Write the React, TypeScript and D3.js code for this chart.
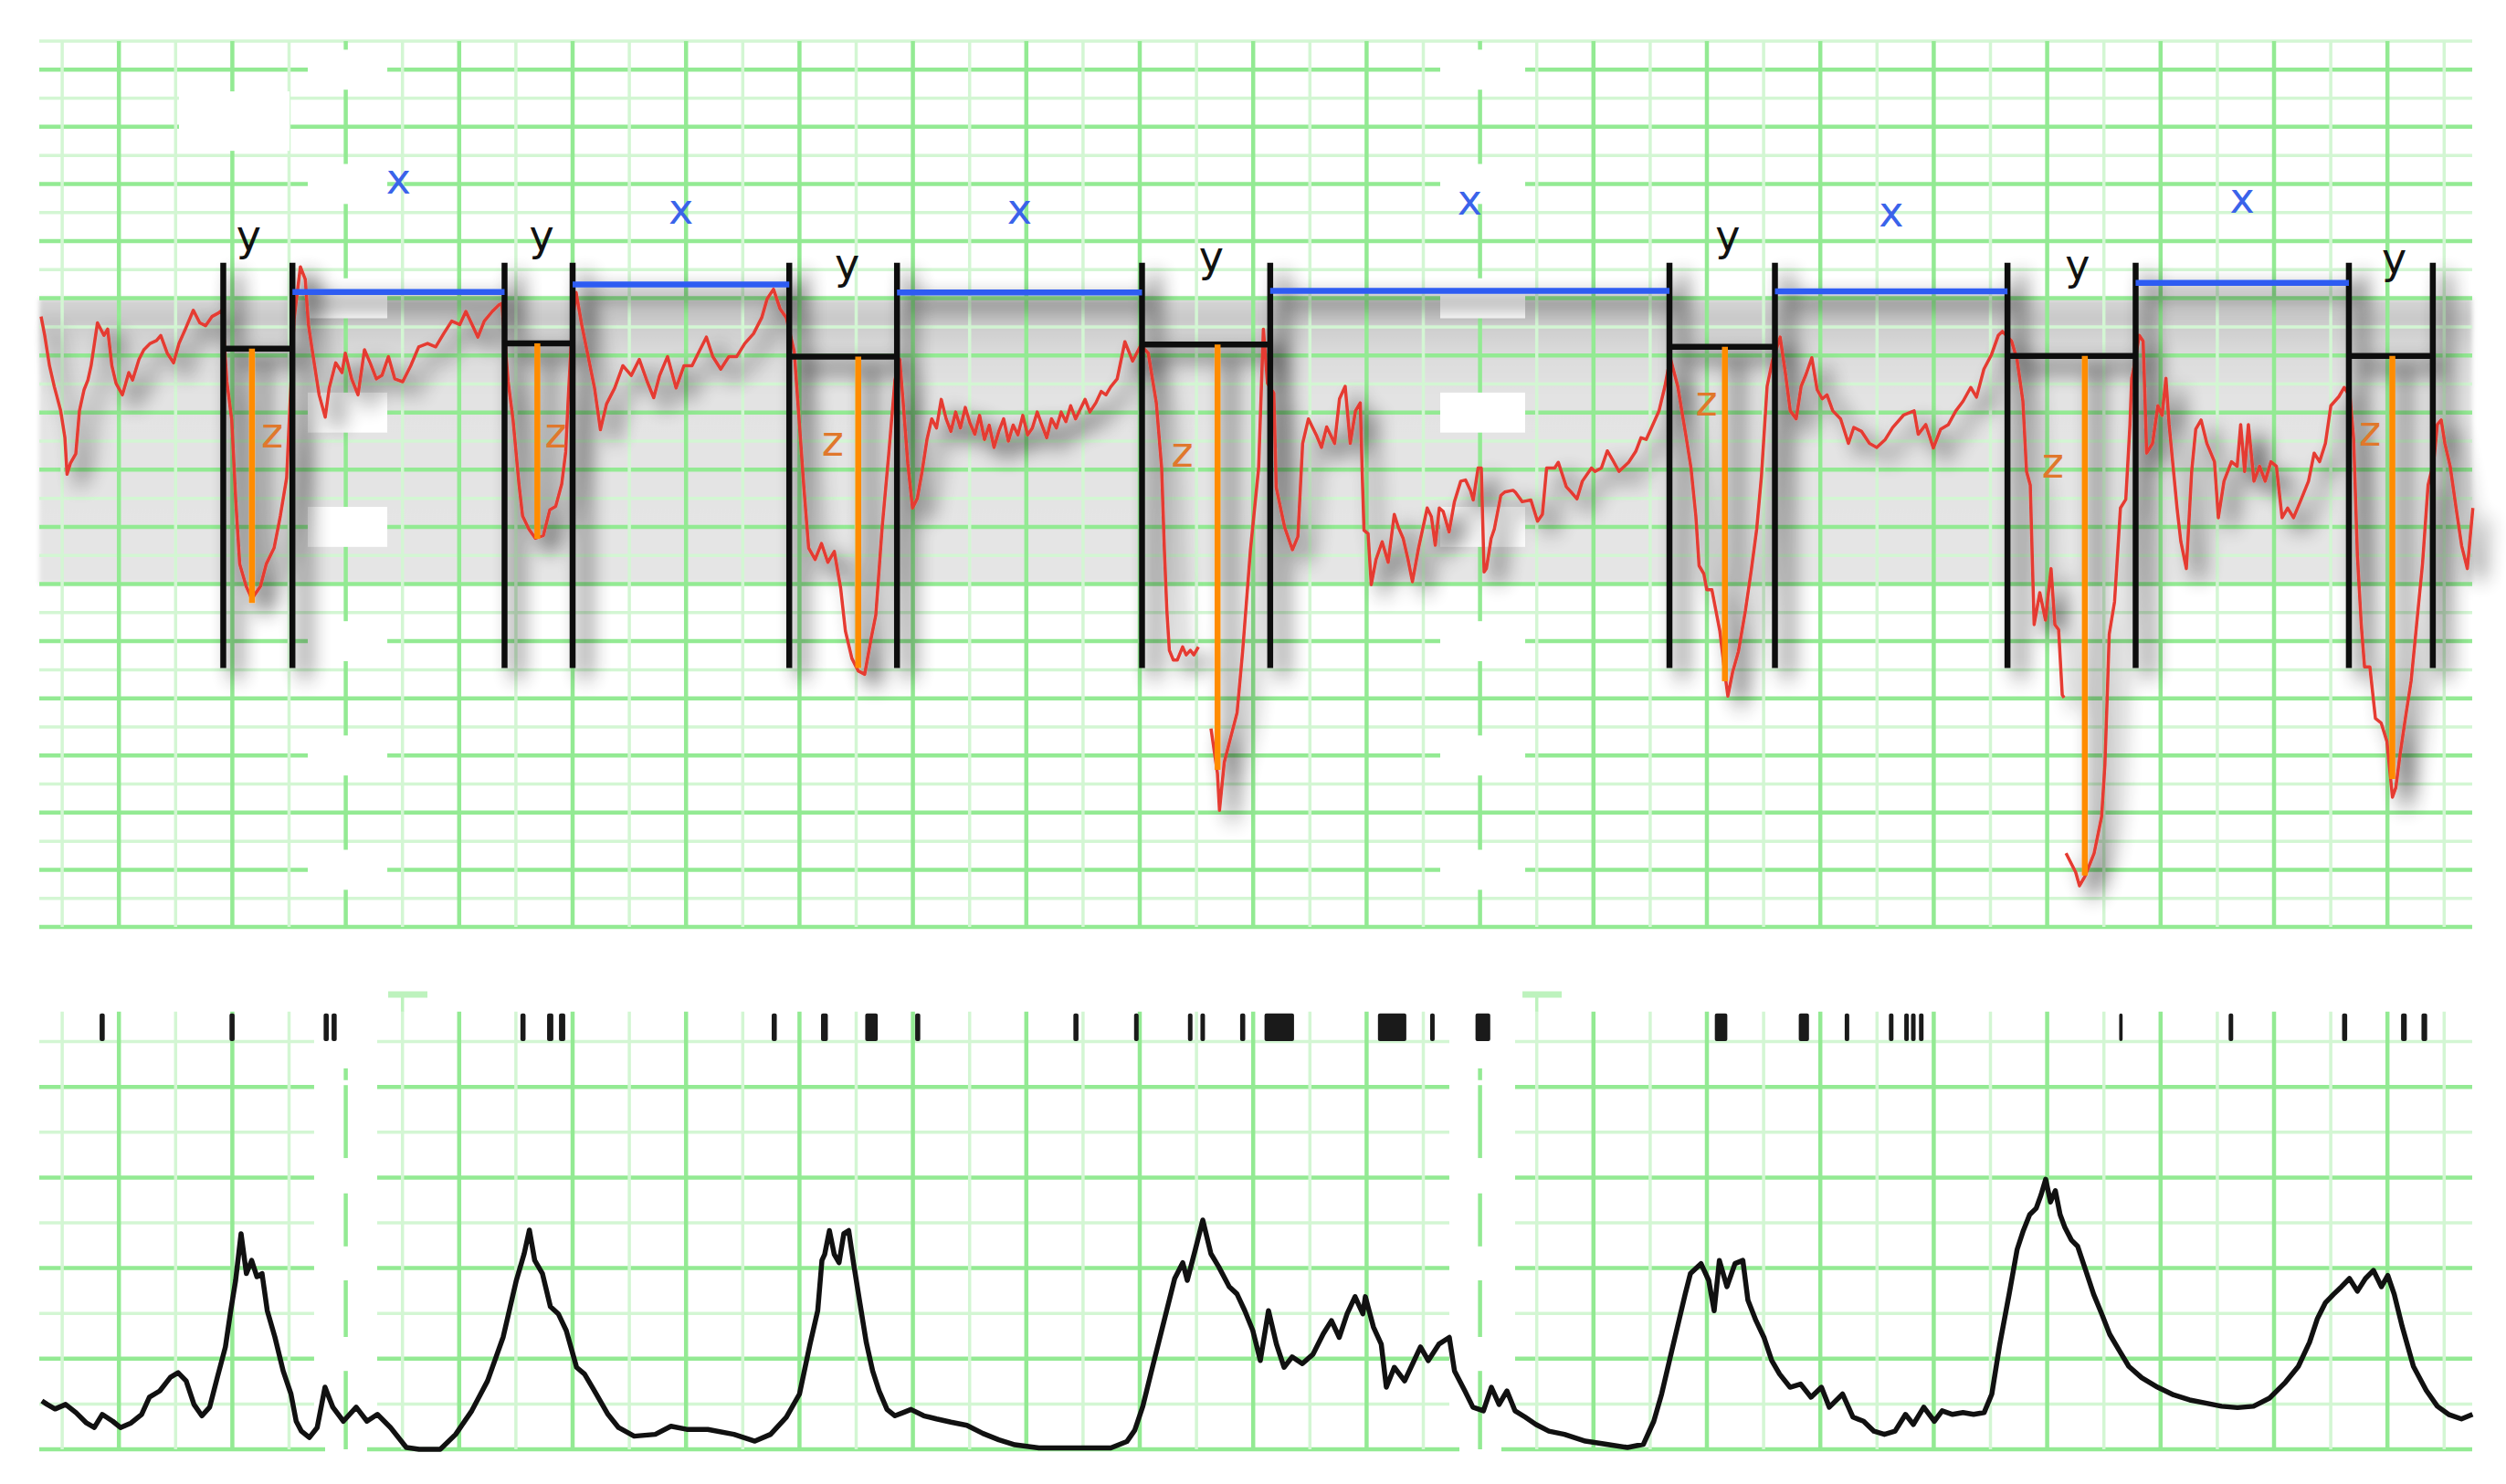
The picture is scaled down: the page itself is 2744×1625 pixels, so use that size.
import React from 'react';
import * as d3 from 'd3';

const W = 2744;
const H = 1625;

// ---- Fetal heart rate trace: [minute, bpm] (null = signal loss) ----
const fhr: [number, number | null][] = [
  [0.314,156.8],[0.346,153.5],[0.388,148.2],[0.431,144.5],[0.487,140.3],[0.524,135.6],[0.543,129.2],[0.572,131.1],[0.620,132.8],[0.652,140.3],[0.693,144.0],[0.727,145.7],[0.755,148.2],[0.811,155.7],[0.868,153.5],[0.901,154.6],[0.938,148.2],[0.975,145.1],[1.031,143.1],[1.087,147.0],[1.121,145.7],[1.177,149.3],[1.220,151.0],[1.276,152.1],[1.332,152.6],[1.369,153.5],[1.426,150.4],[1.482,148.7],[1.530,152.1],[1.586,154.6],[1.656,157.9],[1.713,155.7],[1.764,155.2],[1.820,156.8],[1.876,157.4],[1.910,157.9],
  [1.952,145.4],[1.995,138.7],[2.030,124.7],[2.065,113.5],[2.122,109.6],[2.172,107.4],[2.248,109.6],[2.299,113.5],[2.368,116.3],[2.423,121.9],[2.479,128.6],[2.502,138.7],[2.544,156.3],[2.600,165.5],[2.643,163.3],[2.671,155.4],[2.713,149.8],[2.765,143.1],[2.819,139.2],[2.854,144.3],[2.911,148.7],[2.967,147.0],[2.996,150.4],[3.052,145.9],[3.108,143.1],[3.165,151.0],[3.215,148.7],[3.270,145.9],[3.319,146.5],[3.376,149.8],[3.432,145.9],[3.502,145.4],[3.573,148.2],[3.643,151.5],[3.721,152.1],[3.793,151.5],[3.863,153.8],[3.934,156.0],[4.005,155.4],[4.059,157.7],[4.114,155.4],[4.165,153.2],[4.221,156.0],[4.292,157.7],[4.348,158.8],[4.376,159.1],
  [4.432,145.4],[4.475,138.7],[4.527,127.5],[4.559,121.9],[4.615,119.6],[4.672,118.0],[4.742,118.5],[4.799,123.0],[4.851,123.6],[4.904,127.5],[4.939,133.1],[4.959,141.5],[4.996,155.4],[5.031,161.0],[5.080,155.4],[5.137,149.8],[5.193,144.3],[5.245,137.0],[5.299,141.5],[5.371,144.3],[5.443,148.2],[5.517,146.5],[5.588,149.3],[5.658,145.4],[5.715,142.6],[5.767,146.5],[5.837,149.8],[5.912,144.3],[5.982,148.2],[6.053,148.2],[6.123,151.0],[6.179,153.2],[6.236,149.8],[6.306,147.6],[6.377,149.8],[6.447,149.8],[6.518,152.1],[6.595,153.8],[6.667,156.6],[6.715,159.9],[6.771,161.6],[6.828,158.2],[6.884,156.6],
  [6.954,150.7],[6.997,138.7],[7.039,126.9],[7.081,116.3],[7.138,114.3],[7.194,117.1],[7.250,113.8],[7.307,115.7],[7.363,109.3],[7.405,101.8],[7.462,97.0],[7.518,94.8],[7.575,94.2],[7.631,100.4],[7.673,104.6],[7.729,119.9],[7.786,132.5],[7.842,145.7],[7.884,149.3],
  [7.912,142.3],[7.955,131.1],[7.997,123.3],[8.039,125.0],[8.081,129.7],[8.124,135.3],[8.166,138.9],[8.208,137.3],[8.250,142.3],[8.293,138.9],[8.335,136.7],[8.377,140.1],[8.419,137.3],[8.462,140.9],[8.504,138.1],[8.546,136.2],[8.588,139.5],[8.631,135.3],[8.673,137.8],[8.715,133.9],[8.757,136.7],[8.800,138.9],[8.842,135.0],[8.884,137.8],[8.926,136.1],[8.969,139.5],[9.011,136.1],[9.053,137.3],[9.096,140.1],[9.138,137.8],[9.180,135.6],[9.222,138.9],[9.265,137.3],[9.307,140.1],[9.349,138.4],[9.391,141.2],[9.434,138.9],[9.476,140.6],[9.518,142.3],[9.560,140.1],[9.613,141.7],[9.660,143.7],[9.702,143.1],[9.744,144.5],[9.801,145.9],[9.869,152.4],[9.937,149.0],[10.009,151.8],
  [10.075,150.4],[10.146,141.7],[10.193,130.3],[10.217,116.0],[10.239,105.4],[10.261,98.4],[10.296,96.7],[10.331,96.7],[10.378,99.0],[10.409,97.6],[10.446,98.4],[10.477,97.6],[10.517,99.0],
  [10.57,null],
  [10.628,84.7],[10.685,76.9],[10.703,70.4],[10.745,78.8],[10.793,82.5],[10.858,87.5],[10.907,98.2],[10.976,116.0],[11.048,130.3],[11.090,154.6],[11.126,145.1],[11.182,143.4],[11.203,126.9],[11.278,119.9],[11.346,116.0],[11.394,118.3],[11.436,134.6],[11.487,138.9],[11.556,136.1],[11.602,133.9],[11.648,137.5],[11.718,134.6],[11.761,142.4],[11.811,144.6],[11.856,134.6],[11.902,140.3],[11.944,141.7],[11.963,128.3],[11.977,119.4],[12.013,118.8],[12.041,109.9],[12.083,114.3],[12.137,117.4],[12.190,113.8],[12.244,122.2],[12.280,119.9],[12.322,118.0],[12.365,114.3],[12.404,110.4],[12.458,116.3],[12.492,119.4],[12.534,123.3],[12.571,121.8],[12.605,116.8],[12.641,123.3],[12.675,122.7],[12.727,119.1],[12.774,124.4],[12.830,128.0],[12.872,128.2],[12.915,126.4],[12.940,124.7],[12.983,130.3],[13.011,130.3],[13.036,112.1],[13.056,112.7],[13.098,118.0],[13.126,119.6],[13.183,125.5],[13.218,126.1],[13.291,126.4],[13.310,126.1],[13.372,124.4],[13.448,124.7],[13.507,121.0],[13.550,122.2],[13.587,130.3],[13.658,130.3],[13.690,131.3],[13.761,127.0],[13.803,126.1],[13.855,124.9],[13.902,128.0],[13.982,130.3],[14.014,129.7],[14.070,130.3],[14.122,133.3],[14.169,131.7],[14.225,129.7],[14.310,131.3],[14.373,133.2],[14.419,135.6],[14.465,135.3],[14.513,137.4],[14.578,140.3],[14.630,144.6],[14.677,149.6],
  [14.743,144.6],[14.814,136.1],[14.860,130.3],[14.903,121.8],[14.931,113.2],[14.973,111.8],[14.999,109.0],[15.044,109.0],[15.114,101.8],[15.157,94.6],[15.185,90.4],[15.227,94.6],[15.278,98.2],[15.340,105.4],[15.392,112.5],[15.439,119.6],[15.481,128.9],[15.531,144.6],[15.577,149.0],[15.646,153.2],[15.693,146.8],[15.735,140.3],[15.787,138.9],[15.831,144.6],[15.876,146.8],[15.925,149.6],[15.972,144.0],[16.017,142.4],[16.059,143.1],[16.110,140.3],[16.179,138.9],[16.248,134.6],[16.295,137.4],[16.364,136.7],[16.433,134.6],[16.497,133.9],[16.573,135.3],[16.638,137.4],[16.736,139.6],[16.827,140.3],[16.863,136.2],[16.930,137.9],[16.996,133.8],[17.061,137.1],[17.129,137.9],[17.195,140.3],[17.259,142.0],[17.326,144.4],[17.377,142.7],[17.442,147.6],[17.508,150.1],[17.569,153.5],[17.605,154.2],
  [17.686,152.5],[17.734,149.3],[17.786,142.0],[17.818,129.7],[17.851,127.3],[17.868,115.0],[17.885,102.9],[17.935,108.5],[17.985,103.7],[18.034,112.7],[18.068,102.9],[18.101,102.0],[18.133,90.6],[18.149,90.1],
  [18.157,null],
  [18.166,62.9],[18.251,59.6],[18.285,57.2],[18.332,58.8],[18.414,62.9],[18.480,69.3],[18.509,78.4],[18.530,90.6],[18.547,101.2],[18.594,106.9],[18.646,123.3],[18.693,124.8],[18.730,137.9],[18.745,146.0],[18.762,147.6],[18.812,153.5],[18.846,152.5],[18.863,142.0],[18.877,132.9],[18.929,134.6],[18.976,141.2],[19.013,139.5],[19.047,146.0],[19.075,137.9],[19.145,123.3],[19.178,117.5],[19.227,112.7],[19.274,129.7],[19.310,137.1],[19.357,138.7],[19.408,134.6],[19.475,131.4],[19.509,121.6],[19.559,128.0],[19.625,131.4],[19.675,130.6],[19.706,137.9],[19.741,129.7],[19.774,137.9],[19.823,128.0],[19.873,130.6],[19.922,128.0],[19.973,131.4],[20.021,130.6],[20.071,121.6],[20.120,123.3],[20.172,121.6],[20.239,124.8],[20.304,128.0],[20.354,132.9],[20.402,131.4],[20.453,134.6],[20.501,141.2],[20.572,142.8],[20.619,144.4],
  [20.670,142.8],[20.702,135.4],[20.735,115.0],[20.769,102.9],[20.798,95.5],[20.845,95.5],[20.894,86.5],[20.944,85.7],[20.995,82.5],[21.044,72.7],[21.074,74.4],[21.110,80.0],[21.158,86.5],[21.209,93.1],[21.257,102.9],[21.309,113.5],[21.358,127.3],[21.408,131.4],[21.440,137.9],[21.474,138.7],[21.506,134.6],[21.553,130.6],[21.605,123.3],[21.654,116.7],[21.704,112.7],[21.753,123.3],
];

// ---- Uterine contraction trace: [minute, pressure] ----
const uc: [number, number][] = [
  [0.321,10.7],[0.368,9.9],[0.437,8.9],[0.530,9.9],[0.622,8.1],[0.714,5.8],[0.783,4.8],[0.853,7.7],[0.945,6.2],[1.014,4.8],[1.107,5.8],[1.200,7.7],[1.269,11.5],[1.361,12.9],[1.454,15.9],[1.522,16.9],[1.593,15.1],[1.662,9.9],[1.731,7.4],[1.800,9.3],[1.868,15.9],[1.939,22.6],[1.986,30.6],[2.029,37.3],[2.077,47.6],[2.124,38.8],[2.170,41.7],[2.217,38.1],[2.262,38.8],[2.308,30.6],[2.375,24.8],[2.448,17.3],[2.517,12.2],[2.563,6.2],[2.609,4.0],[2.679,2.6],[2.748,4.8],[2.817,13.7],[2.886,9.3],[2.979,6.2],[3.092,9.3],[3.187,6.2],[3.279,7.7],[3.395,4.8],[3.534,0.4],[3.647,0],[3.833,0],[3.969,3.3],[4.111,8.5],[4.250,15.1],[4.388,24.8],[4.504,37.3],[4.573,43.2],[4.619,48.4],[4.666,41.7],[4.734,38.8],[4.804,31.5],[4.874,29.9],[4.944,26.2],[5.035,18.1],[5.105,16.6],[5.174,13.7],[5.312,7.7],[5.405,4.8],[5.543,2.9],[5.729,3.3],[5.867,5.1],[6.006,4.4],[6.192,4.4],[6.422,3.3],[6.607,1.8],[6.745,3.3],[6.884,7.1],[7.000,12.2],[7.093,23.2],[7.161,30.6],[7.198,41.7],
  [7.222,43.0],[7.264,48.3],[7.307,43.0],[7.349,41.2],[7.391,47.6],[7.434,48.3],[7.476,41.2],[7.532,32.4],[7.589,23.6],[7.645,17.3],[7.702,12.9],[7.772,8.8],[7.842,7.4],[7.913,8.1],[7.983,8.8],[8.096,7.4],[8.209,6.7],[8.335,6.0],[8.476,5.3],[8.617,3.5],[8.758,2.1],[8.899,1.0],[9.111,0.3],[9.322,0.3],[9.533,0.3],[9.745,0.3],[9.886,1.7],[9.956,4.2],[10.027,9.5],[10.097,16.6],[10.167,23.6],[10.238,30.7],[10.308,37.7],[10.379,41.2],
  [10.419,37.3],[10.488,43.9],[10.556,50.6],[10.627,43.2],[10.696,40.3],[10.789,35.9],[10.857,34.3],[10.926,30.6],[10.997,26.2],[11.063,19.6],[11.135,30.6],[11.205,23.2],[11.272,18.1],[11.343,20.4],[11.433,18.9],[11.528,21.0],[11.618,25.5],[11.690,28.4],[11.759,24.7],[11.828,29.9],[11.898,33.7],[11.967,29.9],[11.989,33.7],[12.060,27.0],[12.129,23.2],[12.174,13.7],[12.244,18.1],[12.335,15.1],[12.406,18.9],[12.475,22.6],[12.544,19.6],[12.637,23.2],[12.729,24.7],[12.775,17.3],[12.866,12.9],[12.937,9.3],[13.030,8.5],[13.100,13.7],[13.168,9.9],[13.237,12.9],[13.308,8.5],[13.398,7.1],[13.492,5.5],[13.607,4.0],[13.744,3.3],[13.929,1.8],[14.114,1.1],[14.300,0.4],[14.440,1.1],[14.532,6.2],[14.601,12.2],[14.670,19.6],[14.740,27.0],[14.809,34.3],[14.855,38.8],[14.948,41.0],[15.016,37.3],[15.064,30.6],[15.110,41.7],[15.177,35.9],[15.248,41.0],[15.317,41.7],[15.362,32.9],[15.433,28.4],[15.503,24.7],[15.572,19.6],[15.641,16.6],[15.733,13.7],[15.826,14.4],[15.918,11.5],[16.010,13.7],[16.079,9.3],[16.196,12.2],[16.288,7.1],[16.381,6.2],[16.473,4.0],[16.565,3.3],[16.659,4.0],[16.751,7.7],[16.820,5.5],[16.912,9.3],[17.005,6.2],[17.074,8.5],[17.166,7.7],[17.258,8.1],[17.351,7.7],[17.444,8.1],[17.512,12.2],[17.582,23.2],[17.665,34.3],
  [17.735,44.1],[17.790,48.3],[17.846,51.8],[17.903,53.2],[17.945,56.1],[17.987,59.6],[18.029,54.6],[18.072,57.1],[18.114,51.8],[18.156,49.0],[18.213,46.2],[18.269,44.8],[18.340,39.5],[18.410,34.2],[18.481,29.9],[18.551,25.4],[18.636,21.8],[18.720,18.3],[18.833,15.8],[18.974,13.7],[19.115,12.0],[19.256,10.9],[19.397,10.2],[19.538,9.5],[19.678,9.2],[19.819,9.5],[19.960,11.3],[20.101,14.8],[20.214,18.3],[20.313,23.6],[20.383,28.9],[20.454,32.4],[20.524,34.2],[20.595,35.9],[20.665,37.7],[20.735,34.9],[20.806,37.7],[20.876,39.5],[20.947,35.9],[21.003,38.4],[21.060,34.2],[21.130,27.1],[21.229,18.3],[21.342,13.0],[21.440,9.5],[21.539,7.7],[21.652,6.7],[21.750,7.7],
];

// ---- Fetal movement marks: [start minute, end minute] ----
const movements: [number, number][] = [
  [0.83,0.875],[1.975,2.02],[2.805,2.85],[2.875,2.92],[4.54,4.585],[4.775,4.83],[4.88,4.935],[6.755,6.80],[7.19,7.25],[7.58,7.69],[8.02,8.065],[9.415,9.46],[9.95,9.99],[10.425,10.465],[10.535,10.575],[10.885,10.93],[11.10,11.36],[12.10,12.35],[12.56,12.60],[12.96,13.09],[15.07,15.18],[15.81,15.90],[16.215,16.255],[16.605,16.645],[16.74,16.78],[16.80,16.84],[16.87,16.91],[18.635,18.665],[19.60,19.64],[20.60,20.645],[21.12,21.17],[21.30,21.35],
];

// ---- Annotations ----
const brackets: [number, number][] = [[1.92,2.53],[4.40,5.00],[6.91,7.86],[10.02,11.15],[14.67,15.60],[17.65,18.78],[20.66,21.40]];
const bracketBase = [151.2,152.1,149.8,151.9,151.5,149.9,149.9];
const bracketSpan: [number, number] = [95.3, 166.2];
const dipTime = [2.173,4.689,7.518,10.686,15.159,18.332,21.043];
const dipDepth = [106.7,117.9,95.3,77.5,93.0,59.0,75.9];
const yLabels: [number, number][] = [[2.144,168.4],[4.728,168.4],[7.420,163.5],[10.630,164.7],[15.184,168.4],[18.267,163.3],[21.059,164.4]];
const zLabels: [number, number][] = [[2.351,133.9],[4.851,133.9],[7.293,132.5],[10.376,130.5],[14.997,139.5],[18.051,128.6],[20.846,134.2]];
const xLevels = [161.1,162.4,161.0,161.3,161.2,162.7];
const xLabelLevels = [178.3,173.0,173.0,174.7,172.5,175.0];

// ---- Grid / paper ----
const timeRange: [number, number] = [0.298, 21.747];
const bpmTicks = d3.range(50, 206, 5);
const ucTicks = d3.range(0, 91, 10);
const minuteTicks = d3.range(1, 44).map((k) => k * 0.5);
const normalBand: [number, number] = [110, 160];
const scaleLabelBpm = [200, 180, 160, 140, 120, 100, 80, 60];
const scaleLabelCols: [number, number][] = [[2.665, 3.366], [12.649, 13.398]];
const ucGapCols: [number, number][] = [[2.721, 3.277], [12.729, 13.309]];
const ucBaseGapCols: [number, number][] = [[2.818, 3.188], [12.818, 13.188]];
const timeMarks = [3, 13];
const ucDashSegs: [number, number][] = [[81.5,84.1],[64.3,80.4],[44.8,56.5],[24.8,37.3],[0,17.3]];

export default function App() {
  const x = d3.scaleLinear().domain([0, 22]).range([6, 6 + 22 * 124.2]);
  const yF = d3.scaleLinear().domain([50, 205]).range([1015, 45]);
  const yU = d3.scaleLinear().domain([0, 100]).range([1587, 1091]);

  const fhrLine = d3
    .line<[number, number | null]>()
    .defined((d) => d[1] !== null)
    .x((d) => x(d[0]))
    .y((d) => yF(d[1] as number));
  const ucLine = d3
    .line<[number, number]>()
    .x((d) => x(d[0]))
    .y((d) => yU(d[1]));

  const x0 = x(timeRange[0]);
  const x1 = x(timeRange[1]);
  const majorC = '#93ea93';
  const lightC = '#d3f6d3';
  const font = 'DejaVu Sans, Verdana, sans-serif';

  return (
    <svg
      width={W}
      height={H}
      style={{ position: 'absolute', left: 0, top: 0, background: '#fff' }}
    >
      <defs>
        <linearGradient id="band" gradientUnits="userSpaceOnUse" x1="0" y1={yF(normalBand[1])} x2="0" y2={yF(normalBand[0])}>
          <stop offset="0" stopColor="#d6d6d6" />
          <stop offset="0.07" stopColor="#c9c9c9" />
          <stop offset="0.2" stopColor="#dcdcdc" />
          <stop offset="0.35" stopColor="#e3e3e3" />
          <stop offset="1" stopColor="#e5e5e5" />
        </linearGradient>
        <filter id="soft" x="-5%" y="-10%" width="110%" height="120%">
          <feGaussianBlur stdDeviation="2.5" />
        </filter>
        <filter id="shadow" filterUnits="userSpaceOnUse" x="0" y="0" width={W} height="1100">
          <feGaussianBlur in="SourceAlpha" stdDeviation="11" result="blur" />
          <feOffset in="blur" dx="14" dy="12" result="off" />
          <feComponentTransfer in="off" result="sh">
            <feFuncA type="linear" slope="0.9" />
          </feComponentTransfer>
          <feMerge>
            <feMergeNode in="sh" />
            <feMergeNode in="SourceGraphic" />
          </feMerge>
        </filter>
      </defs>

      {/* normal FHR band */}
      <rect
        x={x0}
        y={yF(normalBand[1])}
        width={x1 - x0}
        height={yF(normalBand[0]) - yF(normalBand[1])}
        fill="url(#band)"
        filter="url(#soft)"
      />

      {/* top grid */}
      <g>
        {bpmTicks.map((b) => (
          <line key={'h' + b} x1={x0} x2={x1} y1={yF(b)} y2={yF(b)}
            stroke={b % 10 === 0 ? majorC : lightC} strokeWidth={b % 10 === 0 ? 4.5 : 3.5} />
        ))}
        {minuteTicks.map((t) => (
          <line key={'v' + t} x1={x(t)} x2={x(t)} y1={yF(205)} y2={yF(50)}
            stroke={t % 1 === 0 ? majorC : lightC} strokeWidth={t % 1 === 0 ? 4.5 : 3.5} />
        ))}
      </g>
      {/* erased scale labels */}
      <g fill="#fff">
        {scaleLabelCols.map((c, i) =>
          scaleLabelBpm.map((b) => (
            <rect key={'w' + i + b} x={x(c[0])} y={yF(b + 3.5)} width={x(c[1]) - x(c[0])} height={yF(b - 3.5) - yF(b + 3.5)} />
          ))
        )}
        <rect x={x(1.53)} y={yF(196.2)} width={x(2.504) - x(1.53)} height={yF(185.8) - yF(196.2)} />
      </g>

      {/* annotated traces with shadow */}
      <g filter="url(#shadow)">
        <path d={fhrLine(fhr) || ''} fill="none" stroke="#e53b30" strokeWidth={3.5} strokeLinejoin="round" />
        {brackets.map((b, i) => (
          <g key={'b' + i} stroke="#111" strokeWidth={6.5}>
            <line x1={x(b[0])} x2={x(b[0])} y1={yF(bracketSpan[1])} y2={yF(bracketSpan[0])} />
            <line x1={x(b[1])} x2={x(b[1])} y1={yF(bracketSpan[1])} y2={yF(bracketSpan[0])} />
            <line x1={x(b[0])} x2={x(b[1])} y1={yF(bracketBase[i])} y2={yF(bracketBase[i])} />
          </g>
        ))}
        {dipTime.map((t, i) => (
          <line key={'o' + i} x1={x(t)} x2={x(t)} y1={yF(bracketBase[i])} y2={yF(dipDepth[i])}
            stroke="#ff8c00" strokeWidth={6.5} />
        ))}
        {xLevels.map((lv, i) => (
          <line key={'x' + i} x1={x(brackets[i][1])} x2={x(brackets[i + 1][0])} y1={yF(lv)} y2={yF(lv)}
            stroke="#2f5cf2" strokeWidth={6.5} />
        ))}
      </g>

      {/* labels */}
      <g fontFamily={font} fontSize={46} textAnchor="middle">
        {yLabels.map((p, i) => (
          <text key={'yl' + i} x={x(p[0])} y={yF(p[1])} fill="#111">y</text>
        ))}
        {zLabels.map((p, i) => (
          <text key={'zl' + i} x={x(p[0])} y={yF(p[1])} fill="#e0782c">z</text>
        ))}
        {xLabelLevels.map((lv, i) => (
          <text key={'xl' + i} x={x((brackets[i][1] + brackets[i + 1][0]) / 2)} y={yF(lv)} fill="#3a63ea">x</text>
        ))}
      </g>

      {/* bottom grid */}
      <g>
        {ucTicks.map((u) => (
          <line key={'uh' + u} x1={x0} x2={x1} y1={yU(u)} y2={yU(u)}
            stroke={u % 20 === 0 ? majorC : lightC} strokeWidth={u % 20 === 0 ? 4.5 : 3.5} />
        ))}
        {minuteTicks.map((t) => (
          <line key={'uv' + t} x1={x(t)} x2={x(t)} y1={yU(96.6)} y2={yU(0)}
            stroke={t % 1 === 0 ? majorC : lightC} strokeWidth={t % 1 === 0 ? 4.5 : 3.5} />
        ))}
      </g>
      <g fill="#fff">
        {ucGapCols.map((c, i) => (
          <rect key={'ug' + i} x={x(c[0])} y={yU(97)} width={x(c[1]) - x(c[0])} height={yU(4) - yU(97)} />
        ))}
        {ucBaseGapCols.map((c, i) => (
          <rect key={'ub' + i} x={x(c[0])} y={yU(4)} width={x(c[1]) - x(c[0])} height={yU(-2) - yU(4)} />
        ))}
      </g>
      <g stroke={majorC} strokeWidth={4.5}>
        {timeMarks.map((t) =>
          ucDashSegs.map((s, j) => (
            <line key={'ud' + t + j} x1={x(t)} x2={x(t)} y1={yU(s[1])} y2={yU(s[0])} />
          ))
        )}
      </g>
      <g stroke="#bdf2bd">
        {timeMarks.map((t) => (
          <g key={'tm' + t}>
            <line x1={x(t + 0.5)} x2={x(t + 0.5)} y1={yU(100.4)} y2={yU(96.6)} strokeWidth={3.5} />
            <line x1={x(t + 0.374)} x2={x(t + 0.72)} y1={yU(100.4)} y2={yU(100.4)} strokeWidth={7} />
          </g>
        ))}
      </g>

      {/* fetal movement marks */}
      <g fill="#1a1a1a">
        {movements.map((m, i) => (
          <rect key={'m' + i} x={x(m[0])} y={yU(96.2)} width={x(m[1]) - x(m[0])} height={yU(90.1) - yU(96.2)} rx={2} />
        ))}
      </g>

      {/* uterine activity */}
      <path d={ucLine(uc) || ''} fill="none" stroke="#111" strokeWidth={5.5} strokeLinejoin="round" />
    </svg>
  );
}
